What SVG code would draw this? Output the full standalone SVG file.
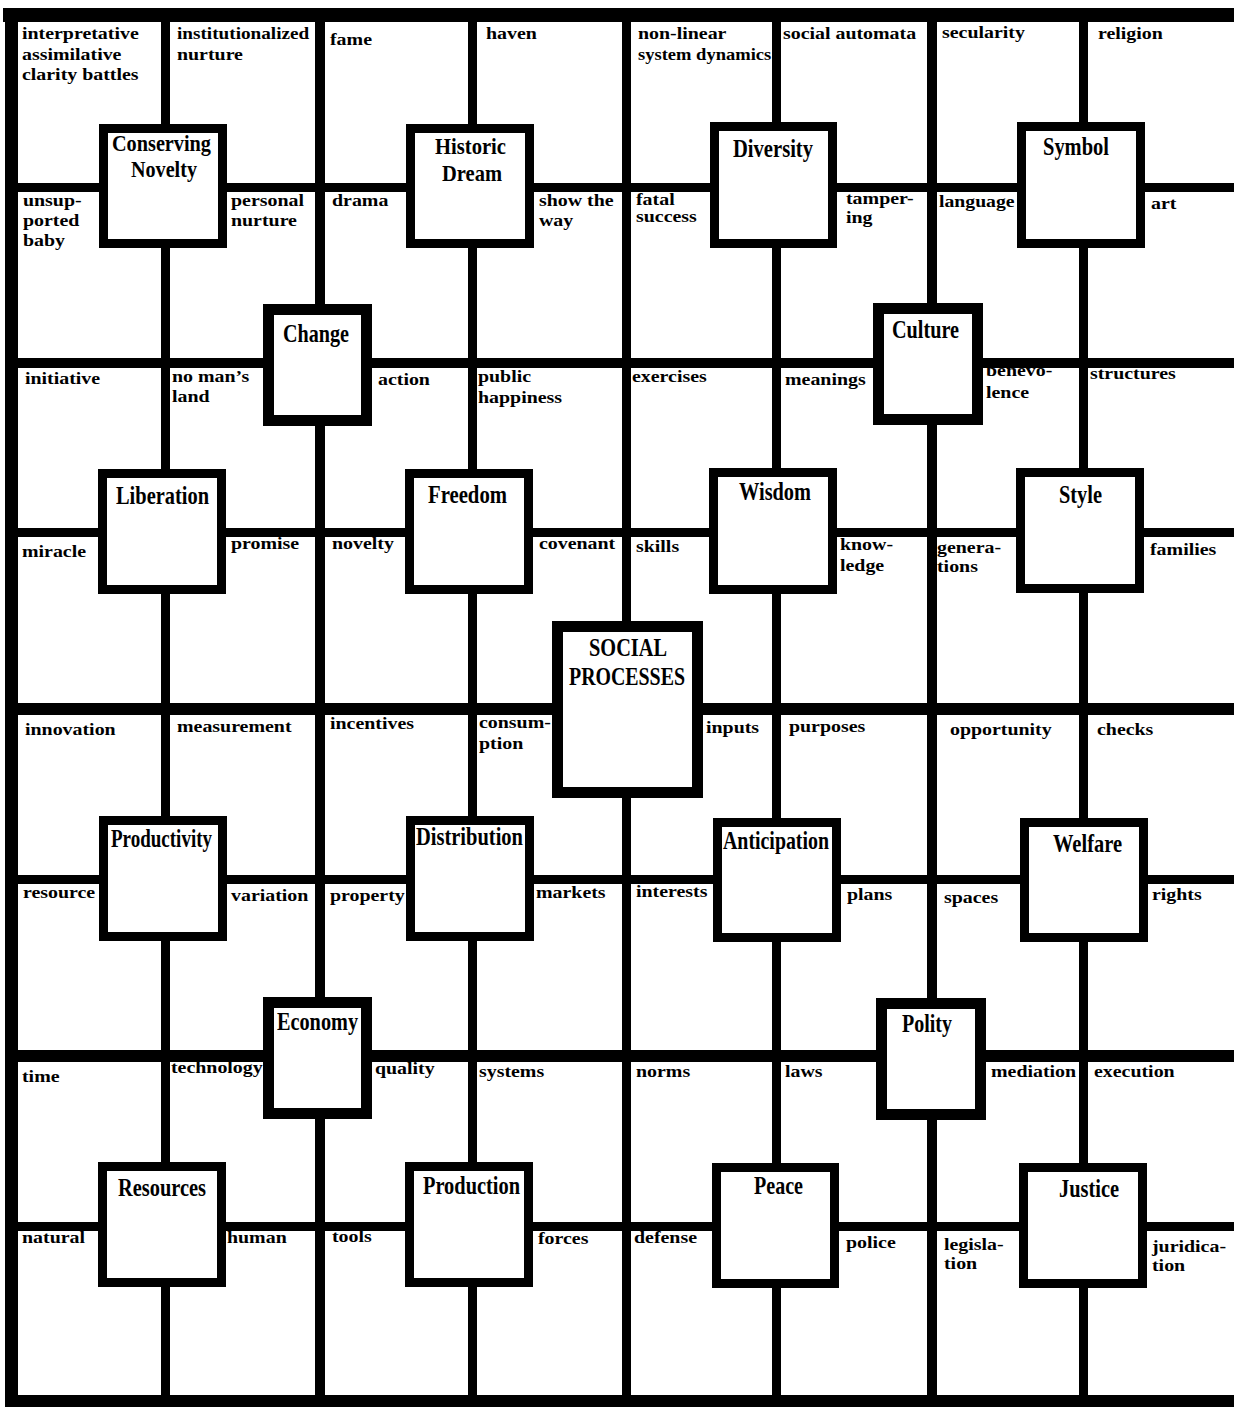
<svg xmlns="http://www.w3.org/2000/svg" width="1234" height="1407" viewBox="0 0 1234 1407">
<style>
.bg{fill:#fff}
.bar{fill:#000}
.n rect{fill:#fff;stroke:#000;stroke-width:9}
.n.s rect{stroke-width:11}
.t{font-family:"Liberation Serif","Times New Roman",serif;font-weight:bold;font-size:26px;fill:#000}
.t2{font-size:24px}
.l{font-family:"Liberation Serif","Times New Roman",serif;font-weight:bold;font-size:17px;fill:#000}
</style>
<rect class="bg" x="0" y="0" width="1234" height="1407"/>
<g id="labels">
<text class="l" transform="translate(22 39) scale(1.17 1)">interpretative</text>
<text class="l" transform="translate(22 60) scale(1.17 1)">assimilative</text>
<text class="l" transform="translate(22 80) scale(1.17 1)">clarity battles</text>
<text class="l" transform="translate(177 39) scale(1.13 1)">institutionalized</text>
<text class="l" transform="translate(177 60) scale(1.17 1)">nurture</text>
<text class="l" transform="translate(330 45) scale(1.17 1)">fame</text>
<text class="l" transform="translate(486 39) scale(1.17 1)">haven</text>
<text class="l" transform="translate(638 39) scale(1.17 1)">non-linear</text>
<text class="l" transform="translate(638 60) scale(1.09 1)">system dynamics</text>
<text class="l" transform="translate(783 39) scale(1.17 1)">social automata</text>
<text class="l" transform="translate(942 38) scale(1.17 1)">secularity</text>
<text class="l" transform="translate(1098 39) scale(1.17 1)">religion</text>
<text class="l" transform="translate(23 206) scale(1.17 1)">unsup-</text>
<text class="l" transform="translate(23 226) scale(1.17 1)">ported</text>
<text class="l" transform="translate(23 246) scale(1.17 1)">baby</text>
<text class="l" transform="translate(231 206) scale(1.17 1)">personal</text>
<text class="l" transform="translate(231 226) scale(1.17 1)">nurture</text>
<text class="l" transform="translate(332 206) scale(1.17 1)">drama</text>
<text class="l" transform="translate(539 206) scale(1.17 1)">show the</text>
<text class="l" transform="translate(539 226) scale(1.17 1)">way</text>
<text class="l" transform="translate(636 205) scale(1.17 1)">fatal</text>
<text class="l" transform="translate(636 222) scale(1.17 1)">success</text>
<text class="l" transform="translate(846 204) scale(1.17 1)">tamper-</text>
<text class="l" transform="translate(846 223) scale(1.17 1)">ing</text>
<text class="l" transform="translate(939 207) scale(1.16 1)">language</text>
<text class="l" transform="translate(1151 209) scale(1.17 1)">art</text>
<text class="l" transform="translate(25 384) scale(1.17 1)">initiative</text>
<text class="l" transform="translate(172 382) scale(1.17 1)">no man’s</text>
<text class="l" transform="translate(172 402) scale(1.17 1)">land</text>
<text class="l" transform="translate(378 385) scale(1.17 1)">action</text>
<text class="l" transform="translate(478 382) scale(1.17 1)">public</text>
<text class="l" transform="translate(478 403) scale(1.17 1)">happiness</text>
<text class="l" transform="translate(632 382) scale(1.17 1)">exercises</text>
<text class="l" transform="translate(785 385) scale(1.17 1)">meanings</text>
<text class="l" transform="translate(986 376) scale(1.17 1)">benevo-</text>
<text class="l" transform="translate(986 398) scale(1.17 1)">lence</text>
<text class="l" transform="translate(1090 379) scale(1.17 1)">structures</text>
<text class="l" transform="translate(22 557) scale(1.17 1)">miracle</text>
<text class="l" transform="translate(231 549) scale(1.17 1)">promise</text>
<text class="l" transform="translate(332 549) scale(1.17 1)">novelty</text>
<text class="l" transform="translate(539 549) scale(1.17 1)">covenant</text>
<text class="l" transform="translate(636 552) scale(1.17 1)">skills</text>
<text class="l" transform="translate(840 550) scale(1.17 1)">know-</text>
<text class="l" transform="translate(840 571) scale(1.17 1)">ledge</text>
<text class="l" transform="translate(937 553) scale(1.17 1)">genera-</text>
<text class="l" transform="translate(937 572) scale(1.17 1)">tions</text>
<text class="l" transform="translate(1150 555) scale(1.17 1)">families</text>
<text class="l" transform="translate(25 735) scale(1.17 1)">innovation</text>
<text class="l" transform="translate(177 732) scale(1.17 1)">measurement</text>
<text class="l" transform="translate(330 729) scale(1.17 1)">incentives</text>
<text class="l" transform="translate(479 728) scale(1.17 1)">consum-</text>
<text class="l" transform="translate(479 749) scale(1.17 1)">ption</text>
<text class="l" transform="translate(706 733) scale(1.17 1)">inputs</text>
<text class="l" transform="translate(789 732) scale(1.17 1)">purposes</text>
<text class="l" transform="translate(950 735) scale(1.17 1)">opportunity</text>
<text class="l" transform="translate(1097 735) scale(1.17 1)">checks</text>
<text class="l" transform="translate(23 898) scale(1.17 1)">resource</text>
<text class="l" transform="translate(231 901) scale(1.17 1)">variation</text>
<text class="l" transform="translate(330 901) scale(1.17 1)">property</text>
<text class="l" transform="translate(536 898) scale(1.17 1)">markets</text>
<text class="l" transform="translate(636 897) scale(1.17 1)">interests</text>
<text class="l" transform="translate(847 900) scale(1.17 1)">plans</text>
<text class="l" transform="translate(944 903) scale(1.17 1)">spaces</text>
<text class="l" transform="translate(1152 900) scale(1.17 1)">rights</text>
<text class="l" transform="translate(22 1082) scale(1.17 1)">time</text>
<text class="l" transform="translate(171 1073) scale(1.17 1)">technology</text>
<text class="l" transform="translate(375 1074) scale(1.17 1)">quality</text>
<text class="l" transform="translate(479 1077) scale(1.17 1)">systems</text>
<text class="l" transform="translate(636 1077) scale(1.17 1)">norms</text>
<text class="l" transform="translate(785 1077) scale(1.17 1)">laws</text>
<text class="l" transform="translate(991 1077) scale(1.17 1)">mediation</text>
<text class="l" transform="translate(1094 1077) scale(1.17 1)">execution</text>
<text class="l" transform="translate(22 1243) scale(1.17 1)">natural</text>
<text class="l" transform="translate(227 1243) scale(1.17 1)">human</text>
<text class="l" transform="translate(332 1242) scale(1.17 1)">tools</text>
<text class="l" transform="translate(538 1244) scale(1.17 1)">forces</text>
<text class="l" transform="translate(634 1243) scale(1.17 1)">defense</text>
<text class="l" transform="translate(846 1248) scale(1.17 1)">police</text>
<text class="l" transform="translate(944 1250) scale(1.17 1)">legisla-</text>
<text class="l" transform="translate(944 1269) scale(1.17 1)">tion</text>
<text class="l" transform="translate(1152 1252) scale(1.17 1)">juridica-</text>
<text class="l" transform="translate(1152 1271) scale(1.17 1)">tion</text>
</g>
<g id="connectors">
<rect class="bar" x="3" y="8" width="1231" height="14"/>
<rect class="bar" x="5" y="8" width="13" height="1399"/>
<rect class="bar" x="5" y="1395" width="1229" height="12"/>
<rect class="bar" x="161" y="22" width="9" height="1374"/>
<rect class="bar" x="315" y="22" width="10" height="1374"/>
<rect class="bar" x="468" y="22" width="9" height="1374"/>
<rect class="bar" x="622" y="22" width="9" height="1374"/>
<rect class="bar" x="772" y="22" width="9" height="1374"/>
<rect class="bar" x="927" y="22" width="10" height="1374"/>
<rect class="bar" x="1079" y="22" width="9" height="1374"/>
<rect class="bar" x="18" y="183" width="1216" height="9"/>
<rect class="bar" x="18" y="358" width="1216" height="10"/>
<rect class="bar" x="18" y="528" width="1216" height="9"/>
<rect class="bar" x="18" y="703" width="1216" height="12"/>
<rect class="bar" x="18" y="875" width="1216" height="9"/>
<rect class="bar" x="18" y="1050" width="1216" height="12"/>
<rect class="bar" x="18" y="1222" width="1216" height="9"/>
</g>
<g id="node-conserving-novelty" class="n"><rect x="103.5" y="128.5" width="119" height="115"/><text class="t t2" x="112" y="151" textLength="99" lengthAdjust="spacingAndGlyphs">Conserving</text><text class="t t2" x="131" y="177" textLength="66" lengthAdjust="spacingAndGlyphs">Novelty</text></g>
<g id="node-historic-dream" class="n"><rect x="410.5" y="128.5" width="119" height="115"/><text class="t t2" x="435" y="154" textLength="71" lengthAdjust="spacingAndGlyphs">Historic</text><text class="t t2" x="442" y="181" textLength="60" lengthAdjust="spacingAndGlyphs">Dream</text></g>
<g id="node-diversity" class="n"><rect x="714.5" y="126.5" width="118" height="117"/><text class="t" x="733" y="157" textLength="80" lengthAdjust="spacingAndGlyphs">Diversity</text></g>
<g id="node-symbol" class="n"><rect x="1021.5" y="126.5" width="119" height="117"/><text class="t" x="1043" y="155" textLength="66" lengthAdjust="spacingAndGlyphs">Symbol</text></g>
<g id="node-change" class="n s"><rect x="268.5" y="309.5" width="98" height="111"/><text class="t" x="283" y="342" textLength="66" lengthAdjust="spacingAndGlyphs">Change</text></g>
<g id="node-culture" class="n s"><rect x="878.5" y="308.5" width="99" height="111"/><text class="t" x="892" y="338" textLength="67" lengthAdjust="spacingAndGlyphs">Culture</text></g>
<g id="node-liberation" class="n"><rect x="102.5" y="473.5" width="119" height="116"/><text class="t" x="116" y="504" textLength="93" lengthAdjust="spacingAndGlyphs">Liberation</text></g>
<g id="node-freedom" class="n"><rect x="409.5" y="473.5" width="119" height="116"/><text class="t" x="428" y="503" textLength="79" lengthAdjust="spacingAndGlyphs">Freedom</text></g>
<g id="node-wisdom" class="n"><rect x="713.5" y="472.5" width="119" height="117"/><text class="t" x="739" y="500" textLength="72" lengthAdjust="spacingAndGlyphs">Wisdom</text></g>
<g id="node-style" class="n"><rect x="1020.5" y="472.5" width="119" height="116"/><text class="t" x="1059" y="503" textLength="43" lengthAdjust="spacingAndGlyphs">Style</text></g>
<g id="node-social-processes" class="n s"><rect x="557.5" y="626.5" width="140" height="166"/><text class="t" x="589" y="656" textLength="78" lengthAdjust="spacingAndGlyphs">SOCIAL</text><text class="t" x="569" y="685" textLength="116" lengthAdjust="spacingAndGlyphs">PROCESSES</text></g>
<g id="node-productivity" class="n"><rect x="103.5" y="820.5" width="119" height="116"/><text class="t" x="111" y="847" textLength="101" lengthAdjust="spacingAndGlyphs">Productivity</text></g>
<g id="node-distribution" class="n"><rect x="410.5" y="820.5" width="119" height="116"/><text class="t" x="416" y="845" textLength="107" lengthAdjust="spacingAndGlyphs">Distribution</text></g>
<g id="node-anticipation" class="n"><rect x="717.5" y="822.5" width="119" height="115"/><text class="t" x="723" y="849" textLength="106" lengthAdjust="spacingAndGlyphs">Anticipation</text></g>
<g id="node-welfare" class="n"><rect x="1024.5" y="822.5" width="119" height="115"/><text class="t" x="1053" y="852" textLength="69" lengthAdjust="spacingAndGlyphs">Welfare</text></g>
<g id="node-economy" class="n s"><rect x="268.5" y="1002.5" width="98" height="111"/><text class="t" x="277" y="1030" textLength="81" lengthAdjust="spacingAndGlyphs">Economy</text></g>
<g id="node-polity" class="n s"><rect x="881.5" y="1003.5" width="99" height="111"/><text class="t" x="902" y="1032" textLength="50" lengthAdjust="spacingAndGlyphs">Polity</text></g>
<g id="node-resources" class="n"><rect x="102.5" y="1166.5" width="119" height="116"/><text class="t" x="118" y="1196" textLength="88" lengthAdjust="spacingAndGlyphs">Resources</text></g>
<g id="node-production" class="n"><rect x="409.5" y="1166.5" width="119" height="116"/><text class="t" x="423" y="1194" textLength="97" lengthAdjust="spacingAndGlyphs">Production</text></g>
<g id="node-peace" class="n"><rect x="716.5" y="1167.5" width="118" height="116"/><text class="t" x="754" y="1194" textLength="49" lengthAdjust="spacingAndGlyphs">Peace</text></g>
<g id="node-justice" class="n"><rect x="1023.5" y="1167.5" width="119" height="116"/><text class="t" x="1059" y="1197" textLength="60" lengthAdjust="spacingAndGlyphs">Justice</text></g>
</svg>
